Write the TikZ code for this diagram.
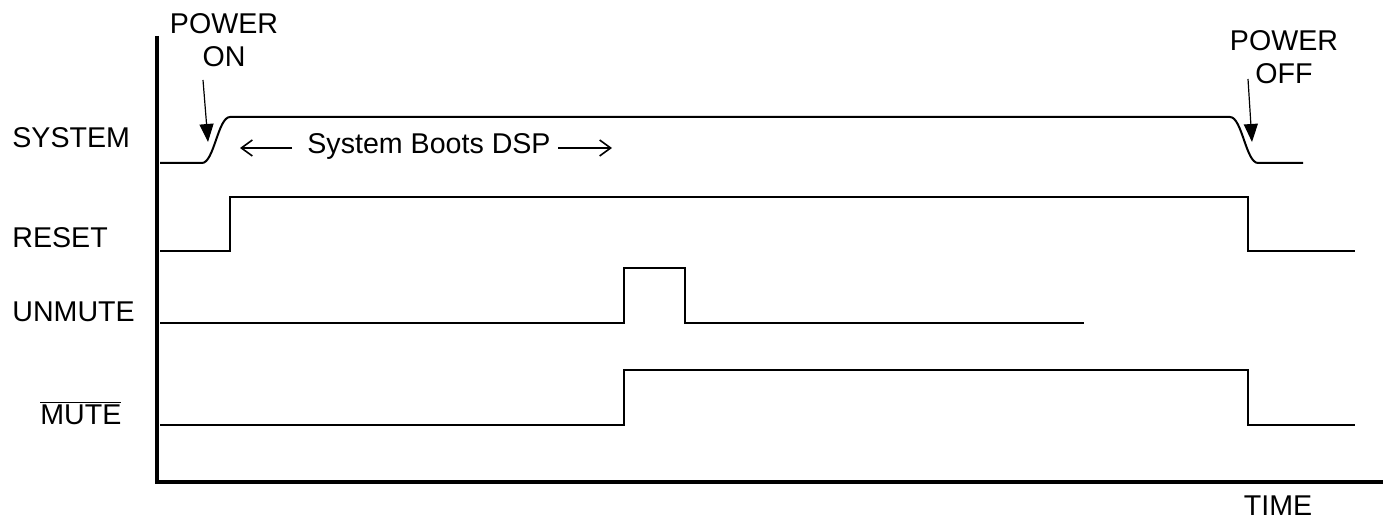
\documentclass[tikz,border=0pt]{standalone}
\usepackage{fontspec}
\setmainfont{Liberation Sans}
\usetikzlibrary{arrows.meta}
\begin{document}
\begin{tikzpicture}[x=0.5pt,y=-0.5pt,
  lbl/.style={inner sep=0pt,font=\fontsize{14.3}{16.5}\selectfont},
  sig/.style={line width=1pt,line join=miter},
  axis/.style={line width=1.6pt},
  ptr/.style={line width=0.6pt,-{Triangle[length=9pt,width=7pt]}},
  span/.style={line width=0.8pt,-{Straight Barb[length=5.5pt,width=8pt]}}]
\useasboundingbox (0,0) rectangle (1383,523);
% axes
\coordinate (top) at (157,36);
\coordinate (org) at (157,482);
\coordinate (xend) at (1383,482);
\draw[axis] (top) -- (org) -- (xend);
% labels
\node[lbl,anchor=west] (lsys) at (12,138) {SYSTEM};
\node[lbl,anchor=west] (lrst) at (12,238) {RESET};
\node[lbl,anchor=west] (lunm) at (12,312) {UNMUTE};
\node[lbl,anchor=west] (lmut) at (40,413) {$\overline{\mbox{MUTE}}$};
\node[lbl,align=center] (pon) at (224,40) {POWER\\ON};
\node[lbl,align=center] (poff) at (1284,57) {POWER\\OFF};
\node[lbl] (time) at (1278,506) {TIME};
\node[lbl,anchor=base west] (boots) at (307,154) {System Boots DSP};
% SYSTEM signal
\draw[sig] (160,163) -- (202,163) .. controls (214,163) and (218,117) .. (230,117)
  -- (1230,117) .. controls (1242,117) and (1246,163) .. (1258,163) -- (1303,163);
% RESET
\draw[sig] (160,251) -- (230,251) -- (230,197) -- (1248,197) -- (1248,251) -- (1355,251);
% UNMUTE
\draw[sig] (160,323) -- (624,323) -- (624,268) -- (685,268) -- (685,323) -- (1084,323);
% MUTE
\draw[sig] (160,425) -- (624,425) -- (624,370) -- (1248,370) -- (1248,425) -- (1355,425);
% power arrows
\coordinate (ponA) at (203,80);
\coordinate (ponB) at (208,142);
\draw[ptr] (ponA) -- (ponB);
\coordinate (poffA) at (1248,79);
\coordinate (poffB) at (1252,142);
\draw[ptr] (poffA) -- (poffB);
% span arrows
\coordinate (la) at (292,148);
\coordinate (lb) at (240,148);
\coordinate (ra) at (558,148);
\coordinate (rb) at (612,148);
\draw[span] (la) -- (lb);
\draw[span] (ra) -- (rb);
\end{tikzpicture}
\end{document}
